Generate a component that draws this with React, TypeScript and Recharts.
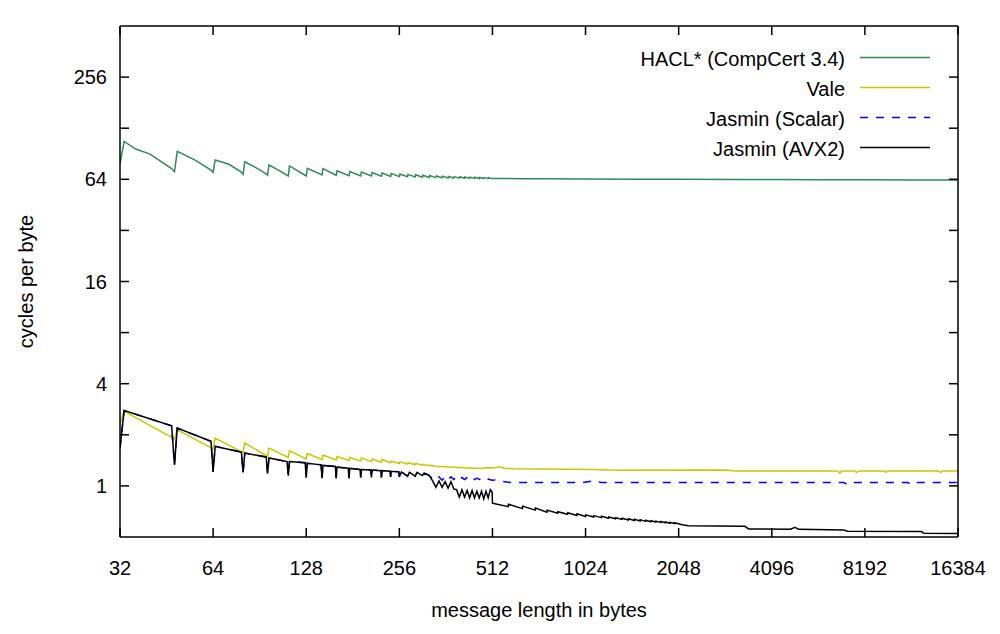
import React from 'react';
import { LineChart, Line, XAxis, YAxis, Legend } from 'recharts';

// Axis ticks (log2 on both axes)
const lengthTicks = [32, 64, 128, 256, 512, 1024, 2048, 4096, 8192, 16384];
const cpbTicks = [1, 2, 4, 8, 16, 32, 64, 128, 256];
const cpbLabelled = [1, 4, 16, 64, 256];

// HACL* (CompCert 3.4)
const haclLengths = [
  32, 33, 36, 40, 47, 48, 49, 56, 63, 64, 65, 72, 79, 80, 81, 88, 95, 96, 97, 104, 112, 113, 128,
  129, 144, 145, 160, 161, 176, 177, 192, 193, 208, 209, 224, 225, 240, 241, 256,
  257, 272, 273, 288, 289, 304, 305, 320, 321, 336, 337, 352, 353, 368, 369, 384,
  385, 400, 401, 416, 417, 432, 433, 448, 449, 464, 465, 480, 481, 496, 497, 512,
  576, 640, 768, 1024, 1536, 2048, 3072, 4096, 6144, 8192, 12288, 16384,
];
const haclCycles = [
  79, 107, 96.5, 90, 74, 71, 93.5, 83, 72.5, 70.3, 83.2, 78.5, 70.5, 68.5, 81, 75, 68.8, 67.6, 77.7, 72.5, 67.0, 76.7, 67.0,
  74.3, 67.9, 74.0, 67.6, 71.8, 67.2, 71.2, 67.0, 70.7, 66.9, 70.2, 66.8, 69.6, 66.6, 69.2, 66.4,
  68.8, 66.2, 68.4, 66.0, 68.0, 65.8, 67.6, 65.6, 67.3, 65.5, 67.0, 65.3, 66.8, 65.2, 66.6, 65.1,
  66.4, 65.0, 66.2, 64.9, 66.0, 64.8, 65.9, 64.8, 65.8, 64.7, 65.6, 64.7, 65.5, 64.6, 65.4, 64.6,
  64.8, 64.5, 64.4, 64.3, 64.1, 64.0, 63.9, 63.8, 63.7, 63.6, 63.5, 63.4,
];

// Vale
const valeLengths = [
  32, 33, 48, 49, 64, 65, 80, 81, 96, 97, 112, 113, 128,
  129, 144, 145, 160, 161, 176, 177, 192, 193, 208, 209, 224, 225, 240, 241, 256,
  257, 272, 273, 288, 289, 304, 305, 320, 321, 336, 352, 384, 416, 448, 470, 490, 512,
  540, 560, 600, 900, 1100, 1300, 2900, 3100, 6700, 6800, 6900, 7600, 7700, 7800,
  9500, 9600, 9700, 14200, 14400, 14600, 16384,
];
const valeCycles = [
  2.3, 2.75, 1.89, 2.14, 1.65, 1.91, 1.57, 1.79, 1.49, 1.67, 1.47, 1.61, 1.44,
  1.55, 1.43, 1.52, 1.42, 1.49, 1.41, 1.47, 1.40, 1.46, 1.39, 1.44, 1.38, 1.43, 1.37, 1.40, 1.355,
  1.385, 1.345, 1.37, 1.335, 1.355, 1.325, 1.34, 1.315, 1.325, 1.305, 1.30, 1.29, 1.28, 1.27, 1.265, 1.28, 1.275,
  1.29, 1.27, 1.26, 1.255, 1.25, 1.235, 1.24, 1.226, 1.226, 1.19, 1.226, 1.226, 1.20, 1.226,
  1.226, 1.20, 1.226, 1.226, 1.20, 1.226, 1.226,
];

// Both Jasmin implementations coincide for short messages
const jasminShortLengths = [
  32, 33, 47, 48, 49, 63, 64, 65, 79, 80, 81, 95, 96, 97, 111, 112, 113, 127, 128,
  129, 143, 144, 145, 159, 160, 161, 175, 176, 177, 191, 192, 193, 207, 208, 209, 223, 224,
  225, 239, 240, 241, 255, 256, 260, 272, 276, 288, 292, 304, 308, 320,
];
const jasminShortCycles = [
  1.67, 2.78, 2.26, 1.33, 2.19, 1.83, 1.21, 1.71, 1.58, 1.20, 1.56, 1.48, 1.18, 1.46, 1.39, 1.15, 1.39, 1.37, 1.12,
  1.36, 1.33, 1.11, 1.32, 1.30, 1.11, 1.29, 1.27, 1.11, 1.27, 1.25, 1.12, 1.25, 1.24, 1.12, 1.24, 1.23, 1.12,
  1.23, 1.22, 1.13, 1.22, 1.21, 1.13, 1.21, 1.14, 1.20, 1.14, 1.20, 1.15, 1.19, 1.15,
];

// Jasmin (Scalar), longer messages
const jasminScalarLengths = [
  328, 336, 344, 352, 360, 368, 376, 384, 392, 400, 408, 416, 424, 432, 440, 448, 456, 464, 472, 480,
  490, 500, 512, 522, 540, 583, 1000, 1085, 1150, 7000, 7160, 7300, 11300, 11470, 11650, 16384,
];
const jasminScalarCycles = [
  1.10, 1.08, 1.13, 1.08, 1.13, 1.085, 1.13, 1.09, 1.13, 1.09, 1.12, 1.09, 1.12, 1.09, 1.12, 1.09, 1.11, 1.09, 1.10, 1.085,
  1.11, 1.09, 1.08, 1.085, 1.07, 1.046, 1.046, 1.07, 1.046, 1.046, 1.023, 1.046, 1.046, 1.023, 1.046, 1.046,
];

// Jasmin (AVX2), longer messages
const jasminAvx2Lengths = [
  328, 336, 344, 352, 360, 368, 376, 384, 392, 400, 408, 416, 424, 432, 440, 448, 456, 464, 472, 480,
  488, 496, 504, 511, 512, 513, 576, 577, 640, 641, 704, 705, 768, 769, 832, 833, 896, 897, 960, 961,
  1024, 1025, 1088, 1089, 1152, 1153, 1216, 1217, 1280, 1281, 1344, 1345, 1408, 1409, 1472, 1473,
  1536, 1537, 1600, 1601, 1664, 1665, 1728, 1729, 1792, 1793, 1856, 1857, 1920, 1921, 1984, 1985,
  2048, 2100, 2200, 3350, 3450, 4700, 4870, 5000, 7000, 7200, 12500, 12700, 16384,
];
const jasminAvx2Cycles = [
  1.07, 0.98, 1.07, 0.98, 1.06, 0.97, 1.06, 0.96, 0.95, 0.86, 0.95, 0.86, 0.94, 0.85, 0.94, 0.85, 0.93, 0.85, 0.93, 0.84,
  0.93, 0.85, 0.95, 0.92, 0.79, 0.79, 0.755, 0.78, 0.735, 0.76, 0.72, 0.74, 0.70, 0.72, 0.69, 0.705, 0.68, 0.695, 0.67, 0.685,
  0.66, 0.675, 0.655, 0.668, 0.65, 0.662, 0.645, 0.656, 0.64, 0.65, 0.635, 0.645, 0.63, 0.64, 0.626, 0.636,
  0.622, 0.631, 0.618, 0.627, 0.615, 0.623, 0.612, 0.62, 0.609, 0.617, 0.606, 0.613, 0.603, 0.61, 0.601, 0.607,
  0.598, 0.59, 0.583, 0.578, 0.558, 0.556, 0.57, 0.555, 0.55, 0.541, 0.538, 0.526, 0.525,
];

type Point = { len: number; cpb: number };

const toPoints = (lengths: number[], cycles: number[]): Point[] =>
  lengths.map((len, i) => ({ len, cpb: cycles[i] }));

const series = [
  { name: 'HACL* (CompCert 3.4)', color: '#2e8b57', dash: undefined as string | undefined, data: toPoints(haclLengths, haclCycles) },
  { name: 'Vale', color: '#c8c800', dash: undefined, data: toPoints(valeLengths, valeCycles) },
  {
    name: 'Jasmin (Scalar)',
    color: '#0000ff',
    dash: '8 8',
    data: [...toPoints(jasminShortLengths, jasminShortCycles), ...toPoints(jasminScalarLengths, jasminScalarCycles)],
  },
  {
    name: 'Jasmin (AVX2)',
    color: '#000000',
    dash: undefined,
    data: [...toPoints(jasminShortLengths, jasminShortCycles), ...toPoints(jasminAvx2Lengths, jasminAvx2Cycles)],
  },
];

const FONT = 'Liberation Sans, Arial, Helvetica, sans-serif';
const axisStroke = { stroke: '#000', strokeWidth: 1.5 };

function CpbTick(props: any) {
  const { x, y, payload } = props;
  if (!cpbLabelled.includes(payload.value)) return <g />;
  return (
    <text x={x} y={y} dy="0.35em" textAnchor="end" fontSize={20} fill="#000" fontFamily={FONT}>
      {payload.value}
    </text>
  );
}

const NoTick = () => <g />;

const xTitle = ({ viewBox }: any) => (
  <text
    x={viewBox.x + viewBox.width / 2}
    y={viewBox.y + 80}
    textAnchor="middle"
    fontSize={20}
    fill="#000"
    fontFamily={FONT}
  >
    message length in bytes
  </text>
);

const yTitle = ({ viewBox }: any) => {
  const cy = viewBox.y + viewBox.height / 2;
  return (
    <text
      x={33}
      y={cy}
      transform={`rotate(-90, 33, ${cy})`}
      textAnchor="middle"
      fontSize={20}
      fill="#000"
      fontFamily={FONT}
    >
      cycles per byte
    </text>
  );
};

const LegendBox = () => (
  <svg width={360} height={130} style={{ display: 'block' }}>
    {series.map((s, i) => (
      <g key={s.name}>
        <text x={245} y={25.5 + i * 30} textAnchor="end" fontSize={20} fill="#000" fontFamily={FONT}>
          {s.name}
        </text>
        <line
          x1={260}
          x2={330}
          y1={17.5 + i * 30}
          y2={17.5 + i * 30}
          stroke={s.color}
          strokeWidth={1.5}
          strokeDasharray={s.dash}
        />
      </g>
    ))}
  </svg>
);

export default function App() {
  return (
    <div style={{ position: 'absolute', left: 0, top: 0, width: 1000, height: 634, background: '#fff', fontFamily: FONT }}>
      <LineChart width={1000} height={634} margin={{ top: 25, right: 41, bottom: 0, left: 0 }}>
        <XAxis
          xAxisId="bottom"
          type="number"
          dataKey="len"
          scale="log"
          domain={[32, 16384]}
          allowDataOverflow
          ticks={lengthTicks}
          interval={0}
          orientation="bottom"
          height={97}
          tickSize={-9}
          tickMargin={33}
          axisLine={axisStroke}
          tickLine={axisStroke}
          stroke="#000"
          tick={{ fill: '#000', fontSize: 20, fontFamily: FONT }}
          label={xTitle}
        />
        <XAxis
          xAxisId="top"
          type="number"
          dataKey="len"
          scale="log"
          domain={[32, 16384]}
          allowDataOverflow
          ticks={lengthTicks}
          interval={0}
          orientation="top"
          height={1}
          tickSize={-9}
          axisLine={axisStroke}
          tickLine={axisStroke}
          stroke="#000"
          tick={NoTick}
        />
        <YAxis
          yAxisId="left"
          type="number"
          scale="log"
          domain={[0.5, 512]}
          allowDataOverflow
          ticks={cpbTicks}
          interval={0}
          width={120}
          tickSize={-9}
          tickMargin={22}
          axisLine={axisStroke}
          tickLine={axisStroke}
          stroke="#000"
          tick={CpbTick}
          label={yTitle}
        />
        <YAxis
          yAxisId="right"
          orientation="right"
          type="number"
          scale="log"
          domain={[0.5, 512]}
          allowDataOverflow
          ticks={cpbTicks}
          interval={0}
          width={1}
          tickSize={-9}
          axisLine={axisStroke}
          tickLine={axisStroke}
          stroke="#000"
          tick={NoTick}
        />
        <Legend
          layout="horizontal"
          verticalAlign="middle"
          align="center"
          wrapperStyle={{ left: 600, top: 40, width: 360, height: 130 }}
          content={() => <LegendBox />}
        />
        {series.map((s) => (
          <Line
            key={s.name}
            xAxisId="bottom"
            yAxisId="left"
            name={s.name}
            data={s.data}
            dataKey="cpb"
            type="linear"
            stroke={s.color}
            strokeWidth={1.5}
            strokeDasharray={s.dash}
            dot={false}
            activeDot={false}
            isAnimationActive={false}
          />
        ))}
      </LineChart>
    </div>
  );
}
